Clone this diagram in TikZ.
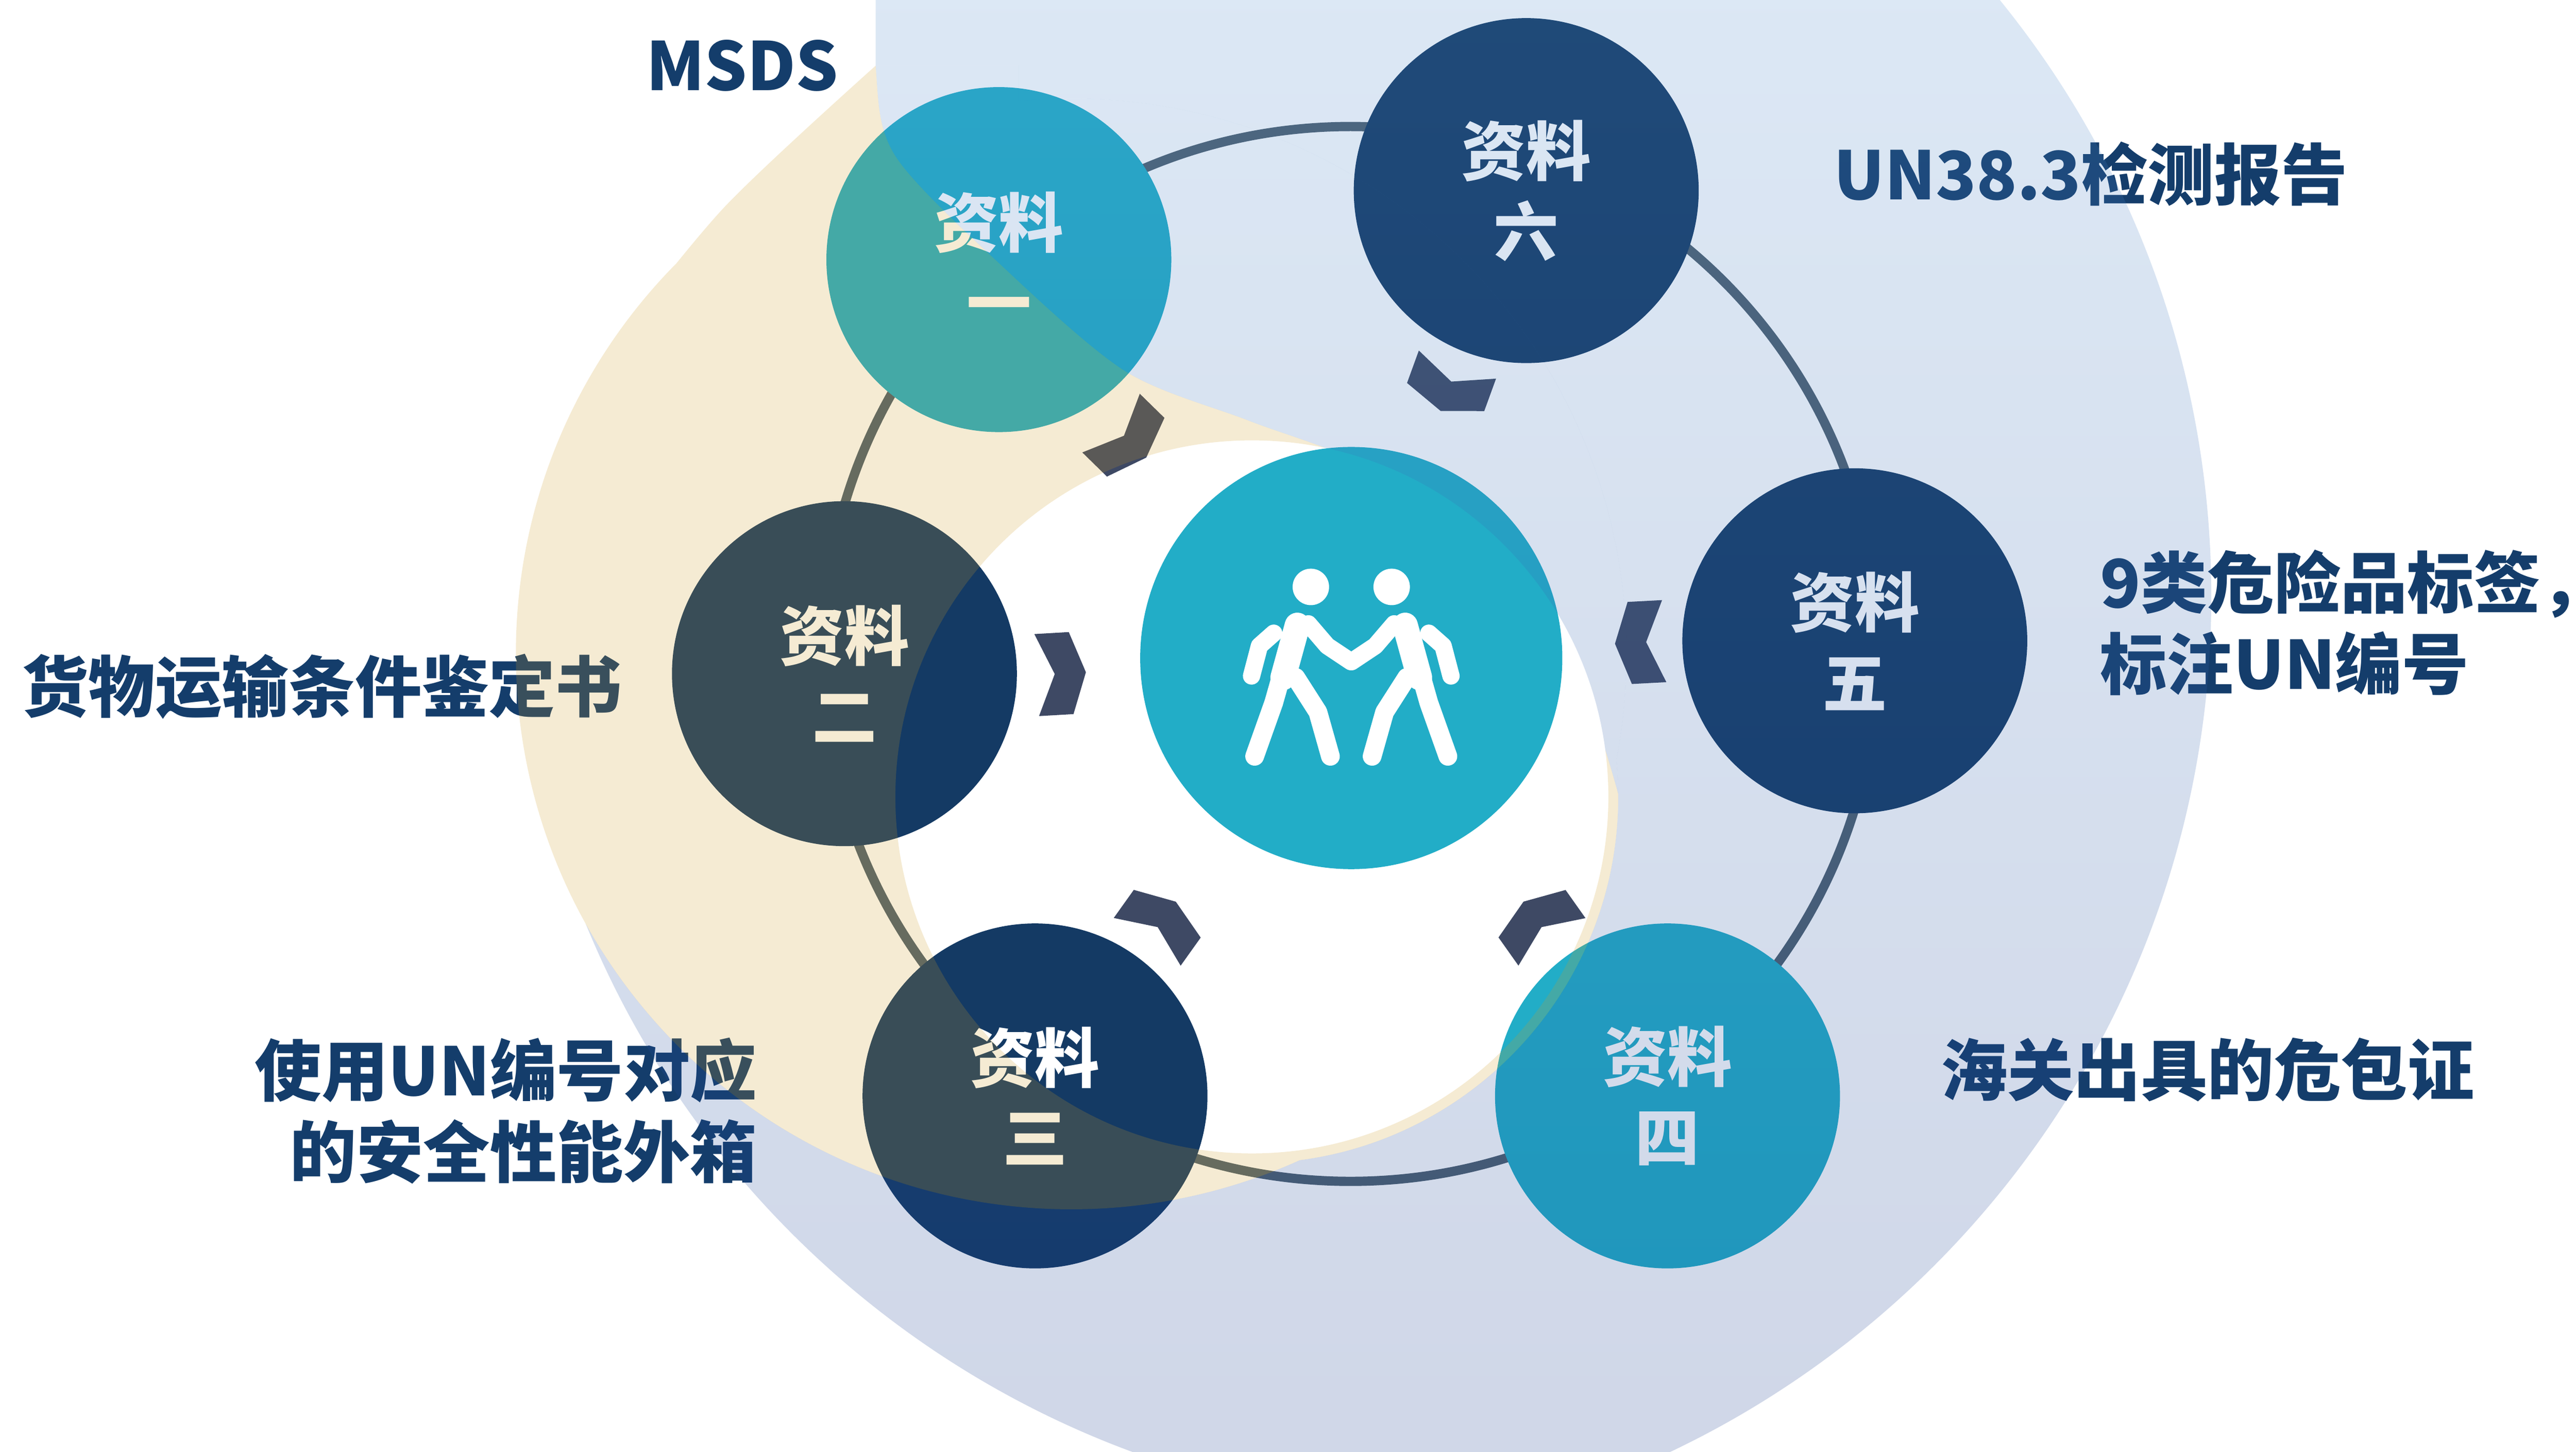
\documentclass[tikz,border=0pt]{standalone}
\usepackage{fontspec}
\newfontfamily\cjk{Noto Sans CJK SC}
\usetikzlibrary{positioning}

\definecolor{navyc}{HTML}{143A64}
\definecolor{cyanc}{HTML}{22ADC7}
\definecolor{ringc}{HTML}{4D5F6E}
\definecolor{chevc}{HTML}{3E4964}
\definecolor{inkc}{HTML}{143D6B}
\definecolor{sandc}{HTML}{CD9B23}
\definecolor{skytop}{HTML}{508CCD}
\definecolor{skybot}{HTML}{14378C}

% outlines of the background washes
\newcommand\skyclip{\clip (770,363) circle (576); \clip (888,345) circle (574);
  \clip (533,-60) rectangle (1650,950) (-60,520) rectangle (1650,950);}
\newcommand\sandtip{plot[smooth] coordinates {(371,212) (441,126) (533,40)} -- (620,40) -- (620,300) -- cycle}
\newcommand\sandpath{(652,398) circle (338) (762,485) circle (223) \sandtip}
\newcommand\topedge{plot[smooth] coordinates {(533,-60) (533,40) (545,95) (610,162) (685,226) (760,256) (830,283) (900,333) (949,390) (975,450) (995,520)} -- (1400,560) -- (1400,-60) -- cycle}
\newcommand\pageframe{(-60,-60) rectangle (1650,950)}

\tikzset{
  chev/.pic={\fill[chevc] (-15,-25) -- (6,-25) -- (15,0) -- (6,25) -- (-15,25) -- (-4,0) -- cycle;},
  walker/.pic={
    \fill (-24.6,-43.3) circle (11.1);
    \draw[line width=8.8pt] (-32.8,-19.9) -- (-41.5,11.8);
    \draw[line width=6pt] (-47.2,-15.1) -- (-55.9,-7.4) -- (-60.7,10.9);
    \draw[line width=6pt] (-26.1,-20.8) -- (-14.6,-7.4) -- (-0.2,2.2);
    \draw[line width=6.5pt] (-43.4,13.8) -- (-47.2,27.2) -- (-58.8,59.8);
    \draw[line width=6.5pt] (-33.8,11.8) -- (-20.3,32.9) -- (-12.7,59.8);
  }
}

\begin{document}
\begin{tikzpicture}[x=0.02cm, y=-0.02cm,
    doc/.style={circle, minimum size=4.2cm, inner sep=0pt, text=white, align=center,
      font=\cjk\bfseries\fontsize{22.4}{27.8}\selectfont},
    note/.style={inner sep=0pt, text=inkc, font=\cjk\bfseries\fontsize{23.1}{28.2}\selectfont},
    ring/.style={draw=ringc, line width=3.2pt},
    wash/.style={top color=skytop, bottom color=skybot, opacity=0.2}]
    \useasboundingbox[fill=white] (0,0) rectangle (1568,883.5);

    % ring and documents
    \draw[ring] (822,398) circle (321);
    \node[doc, fill=cyanc] (doc1) at (608,158) {资料\\一};
    \node[doc, fill=navyc] (doc2) at (514,410) {资料\\二};
    \node[doc, fill=navyc] (doc3) at (630,667) {资料\\三};
    \node[doc, fill=cyanc] (doc4) at (1015,667) {资料\\四};
    \node[doc, fill=navyc] (doc5) at (1129,390) {资料\\五};
    \node[doc, fill=navyc] (doc6) at (929,116) {资料\\六};
    \node[circle, fill=cyanc, minimum size=5.14cm] (hub) at (822.5,400.5) {};
    \pic[white, line cap=round, line join=round] at (hub) {walker};
    \pic[white, line cap=round, line join=round, xscale=-1] at (hub) {walker};

    % chevrons toward the hub
    \pic[rotate=-44.4] at (687,268) {chev};
    \pic[rotate=-110] at (882,236) {chev};
    \pic[rotate=183] at (998,391) {chev};
    \pic[rotate=125.3] at (936,561) {chev};
    \pic[rotate=54.5] at (707,561) {chev};
    \pic[rotate=3.3] at (646,410) {chev};

    % labels
    \node[note, anchor=west] (msds) at (393,40) {MSDS};
    \node[note, anchor=west] (un383) at (1116,106) {UN38.3检测报告};
    \node[note, anchor=west, align=left] (label9) at (1278,379) {9类危险品标签，\\标注UN编号};
    \node[note, anchor=west] (customs) at (1181,651) {海关出具的危包证};
    \node[note, anchor=west] (cargo) at (13,418) {货物运输条件鉴定书};
    \node[note, anchor=east, align=right] (carton) at (461,676) {使用UN编号对应\\的安全性能外箱};

    % blue wash outside the sand
    \begin{scope}
        \skyclip
        \begin{scope}[even odd rule]
            \clip \pageframe (652,398) circle (338);
            \clip \pageframe (762,485) circle (223);
            \clip \pageframe \sandtip;
            \shade[wash] (0,0) rectangle (1568,884);
        \end{scope}
    \end{scope}
    % blue wash over the sand
    \begin{scope}
        \skyclip
        \clip \topedge;
        \clip \sandpath;
        \begin{scope}[even odd rule]
            \clip \pageframe (762,485) circle (217);
            \shade[wash] (0,0) rectangle (1568,884);
        \end{scope}
    \end{scope}
    % sand wash
    \begin{scope}
        \clip \sandpath;
        \begin{scope}[even odd rule]
            \clip \pageframe \topedge;
            \clip \pageframe (762,485) circle (217);
            \fill[sandc, opacity=0.2] (0,0) rectangle (1568,884);
        \end{scope}
    \end{scope}
\end{tikzpicture}
\end{document}
